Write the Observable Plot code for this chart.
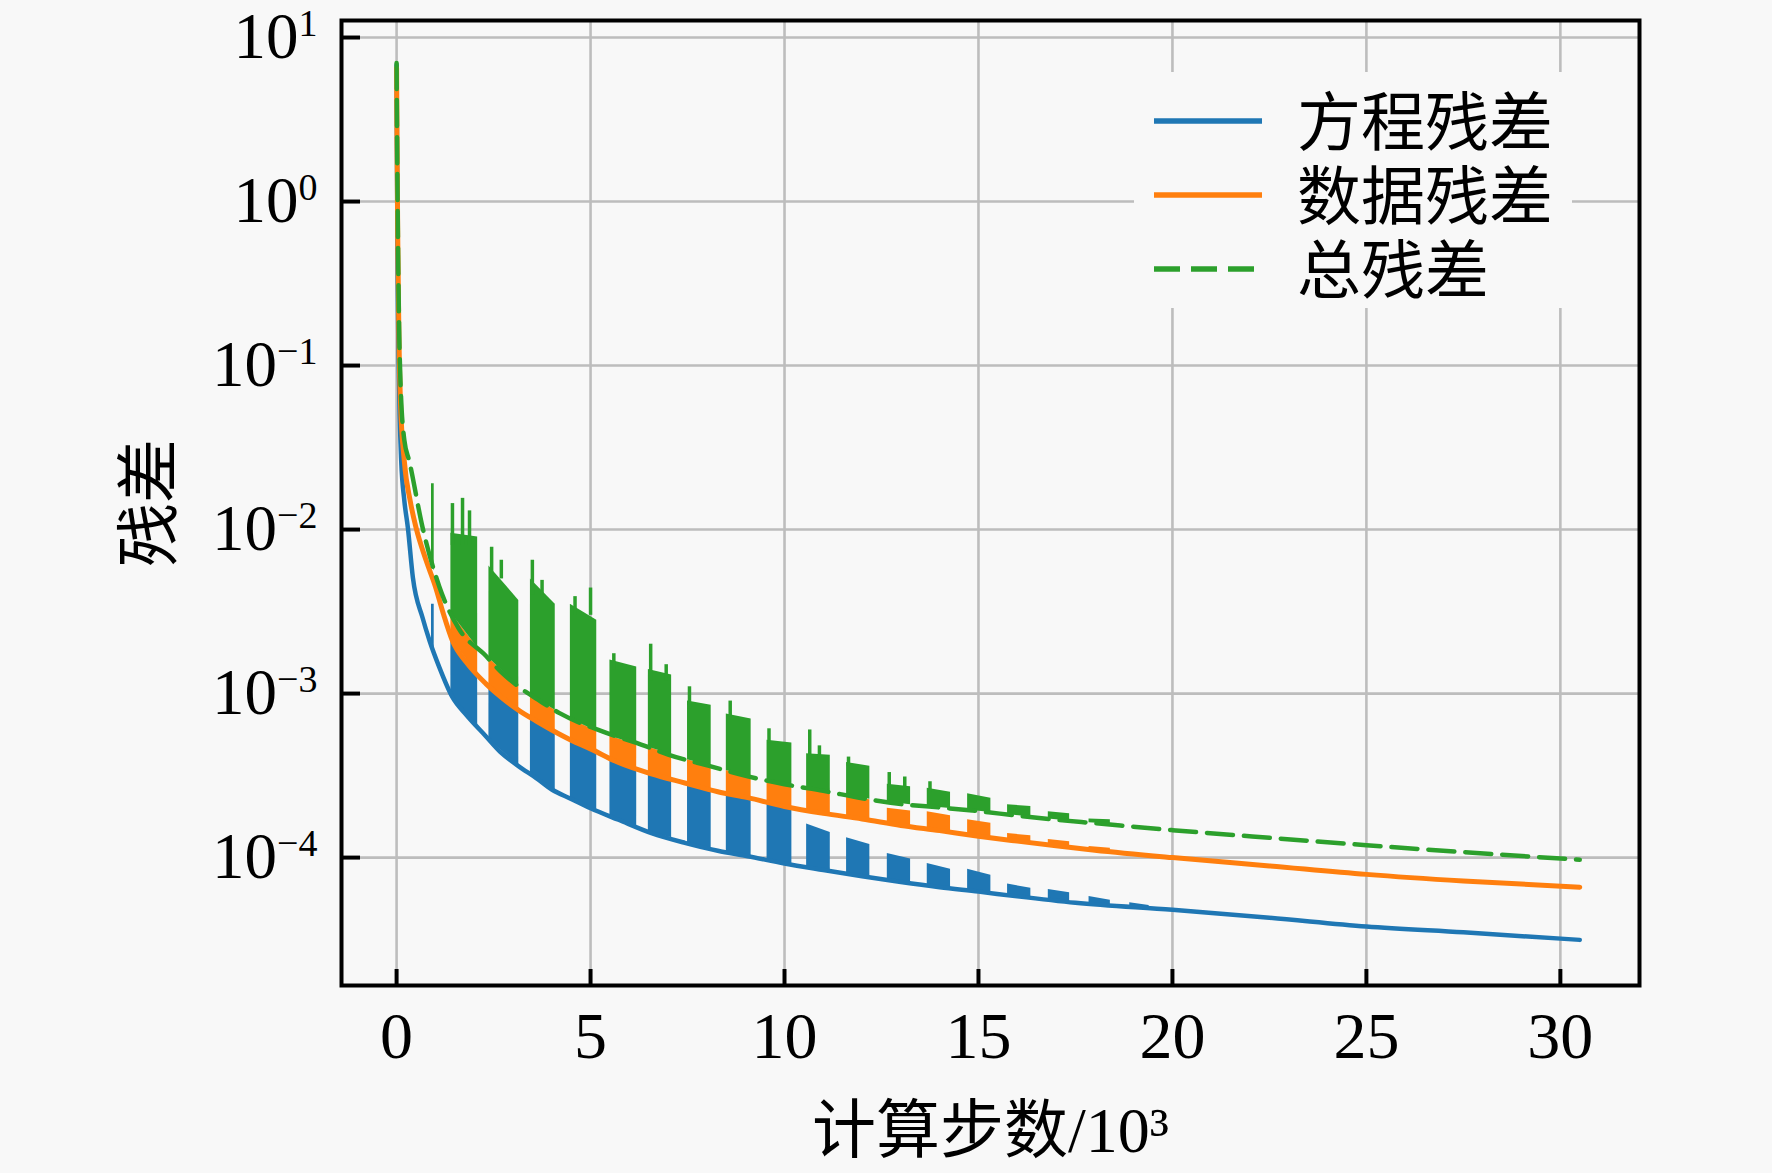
<!DOCTYPE html>
<html>
<head>
<meta charset="utf-8">
<script src="https://cdn.jsdelivr.net/npm/d3@7"></script>
<script src="https://cdn.jsdelivr.net/npm/@observablehq/plot@0.6"></script>
<style>
  @font-face {
    font-family: "LegendCJK";
    src: local("Noto Sans CJK SC"), local("Noto Sans CJK SC Regular"), local("NotoSansCJKsc-Regular");
    ascent-override: 88%; descent-override: 12%; line-gap-override: 0%;
  }
  html, body { margin: 0; padding: 0; background: #f8f8f8; }
  #wrap { position: relative; width: 1772px; height: 1173px; overflow: hidden; }
  #legend { position: absolute; left: 1134px; top: 72px; width: 438px; height: 236px; background: #f8f8f8; }
  .row { position: absolute; left: 0; width: 438px; height: 74px; }
  .row svg { position: absolute; left: 18px; top: 27px; }
  .row span { position: absolute; left: 163px; top: 0; line-height: 74px; font-size: 64px; font-family: "LegendCJK", "Noto Sans CJK SC", sans-serif; color: #000; white-space: nowrap; }
</style>
</head>
<body>
<div id="wrap"></div>
<script>
// ---------- axis ticks ----------
const xTicks = [0, 5, 10, 15, 20, 25, 30];
const yTicks = [1e1, 1e0, 1e-1, 1e-2, 1e-3, 1e-4];
const yExponents = ["1", "0", "\u22121", "\u22122", "\u22123", "\u22124"];
const xLabel = "计算步数/10³";
const yLabel = "残差";
const seriesNames = ["方程残差", "数据残差", "总残差"];
const seriesColors = ["#1f77b4", "#ff7f0e", "#2ca02c"];

// ---------- lower envelopes (steps in 10^3) ----------
const blueX = [0, 0.01, 0.025, 0.05, 0.08, 0.12, 0.2, 0.29, 0.42, 0.67, 0.85, 1.1, 1.44, 1.8, 2.3, 2.7, 3.15, 3.6, 4.0, 4.5, 5.0, 5.72, 6.57, 7.43, 8.28, 9.05, 10.0, 11.0, 12.0, 13.0, 14.0, 15.0, 16.0, 17.5, 20.0, 22.5, 25.0, 27.5, 30.5];
const blueY = [6.8, 2.0, 0.4, 0.12, 0.05, 0.026, 0.015, 0.0103, 5.1e-3, 2.9e-3, 2.1e-3, 1.45e-3, 9.5e-4, 7.4e-4, 5.5e-4, 4.35e-4, 3.6e-4, 3.05e-4, 2.6e-4, 2.28e-4, 2.0e-4, 1.7e-4, 1.41e-4, 1.23e-4, 1.1e-4, 1.02e-4, 9.2e-5, 8.4e-5, 7.7e-5, 7.1e-5, 6.6e-5, 6.2e-5, 5.8e-5, 5.3e-5, 4.8e-5, 4.3e-5, 3.8e-5, 3.5e-5, 3.15e-5];

const orangeX = [0, 0.01, 0.03, 0.06, 0.1, 0.2, 0.35, 0.5, 0.76, 1.0, 1.2, 1.44, 1.8, 2.3, 2.7, 3.15, 3.6, 4.0, 4.5, 5.0, 5.72, 6.57, 7.43, 8.28, 9.05, 10.0, 11.0, 12.0, 13.0, 14.0, 15.0, 16.0, 17.0, 18.0, 20.0, 22.5, 25.0, 27.5, 30.5];
const orangeY = [6.5, 2.5, 0.6, 0.15, 0.06, 0.026, 0.015, 0.0103, 6.5e-3, 4.5e-3, 3.1e-3, 2.1e-3, 1.55e-3, 1.15e-3, 9.5e-4, 7.9e-4, 6.8e-4, 6.0e-4, 5.2e-4, 4.6e-4, 3.8e-4, 3.24e-4, 2.85e-4, 2.52e-4, 2.32e-4, 2.05e-4, 1.86e-4, 1.72e-4, 1.57e-4, 1.46e-4, 1.35e-4, 1.26e-4, 1.18e-4, 1.11e-4, 1.0e-4, 8.9e-5, 7.9e-5, 7.2e-5, 6.6e-5];

const greenX = [0, 0.01, 0.03, 0.06, 0.1, 0.2, 0.33, 0.67, 1.1, 1.6, 2.3, 2.7, 3.15, 3.7, 4.2, 5.2, 6.4, 7.0, 8.1, 9.0, 10.0, 11.0, 12.0, 13.0, 14.0, 15.0, 16.0, 17.0, 18.0, 20.0, 22.5, 25.0, 27.5, 30.5];
const greenY = [7.0, 3.0, 0.8, 0.2, 0.08, 0.035, 0.026, 0.0103, 4.5e-3, 2.5e-3, 1.7e-3, 1.35e-3, 1.1e-3, 9.0e-4, 7.6e-4, 6.0e-4, 4.8e-4, 4.25e-4, 3.6e-4, 3.15e-4, 2.8e-4, 2.55e-4, 2.3e-4, 2.12e-4, 2.02e-4, 1.92e-4, 1.8e-4, 1.7e-4, 1.62e-4, 1.47e-4, 1.32e-4, 1.19e-4, 1.08e-4, 9.7e-5];

// ---------- oscillation bursts: [xStart, xEnd, lowStart, lowEnd, highStart, highEnd] ----------
const blueBursts = [
  [0.90, 0.97, 1.9e-3, 1.8e-3, 3.5e-3, 3.5e-3],
  [1.40, 2.09, 9.8e-4, 6.2e-4, 2.2e-3, 1.3e-3],
  [2.38, 3.15, 5.3e-4, 3.6e-4, 1.1e-3, 7.9e-4],
  [3.45, 4.09, 3.2e-4, 2.55e-4, 7.1e-4, 5.85e-4],
  [4.48, 5.16, 2.3e-4, 1.94e-4, 5.2e-4, 4.4e-4],
  [5.50, 6.19, 1.78e-4, 1.53e-4, 4.0e-4, 3.45e-4],
  [6.49, 7.09, 1.43e-4, 1.32e-4, 3.3e-4, 3.05e-4],
  [7.50, 8.11, 1.22e-4, 1.13e-4, 2.82e-4, 2.6e-4],
  [8.50, 9.14, 1.08e-4, 1.01e-4, 2.47e-4, 2.3e-4],
  [9.55, 10.19, 9.6e-5, 9.0e-5, 2.18e-4, 2.02e-4],
  [10.57, 11.18, 8.7e-5, 8.3e-5, 1.6e-4, 1.42e-4],
  [11.60, 12.20, 8.0e-5, 7.6e-5, 1.32e-4, 1.2e-4],
  [12.65, 13.25, 7.35e-5, 7.0e-5, 1.06e-4, 9.8e-5],
  [13.68, 14.28, 6.8e-5, 6.5e-5, 9.2e-5, 8.5e-5],
  [14.72, 15.32, 6.3e-5, 6.1e-5, 8.5e-5, 7.8e-5],
  [15.75, 16.35, 5.9e-5, 5.7e-5, 6.9e-5, 6.5e-5],
  [16.80, 17.35, 5.55e-5, 5.35e-5, 6.4e-5, 6.1e-5],
  [17.85, 18.40, 5.2e-5, 5.1e-5, 5.8e-5, 5.5e-5],
  [18.90, 19.40, 5.0e-5, 4.9e-5, 5.3e-5, 5.1e-5]
];
const orangeBursts = [
  [1.40, 2.09, 2.2e-3, 1.3e-3, 3.1e-3, 1.9e-3],
  [2.38, 3.15, 1.1e-3, 7.9e-4, 1.65e-3, 1.1e-3],
  [3.45, 4.09, 7.1e-4, 5.85e-4, 9.8e-4, 7.9e-4],
  [4.48, 5.16, 5.2e-4, 4.4e-4, 7.0e-4, 5.9e-4],
  [5.50, 6.19, 4.0e-4, 3.45e-4, 5.5e-4, 4.9e-4],
  [6.49, 7.09, 3.3e-4, 3.05e-4, 4.7e-4, 4.25e-4],
  [7.50, 8.11, 2.82e-4, 2.6e-4, 3.95e-4, 3.6e-4],
  [8.50, 9.14, 2.47e-4, 2.3e-4, 3.4e-4, 3.1e-4],
  [9.55, 10.19, 2.18e-4, 2.02e-4, 2.95e-4, 2.75e-4],
  [10.57, 11.18, 1.94e-4, 1.83e-4, 2.65e-4, 2.5e-4],
  [11.60, 12.20, 1.78e-4, 1.69e-4, 2.35e-4, 2.25e-4],
  [12.65, 13.25, 1.62e-4, 1.54e-4, 2.0e-4, 1.92e-4],
  [13.68, 14.28, 1.49e-4, 1.43e-4, 1.9e-4, 1.8e-4],
  [14.72, 15.32, 1.38e-4, 1.32e-4, 1.7e-4, 1.62e-4],
  [15.75, 16.35, 1.28e-4, 1.23e-4, 1.4e-4, 1.36e-4],
  [16.80, 17.35, 1.2e-4, 1.16e-4, 1.29e-4, 1.25e-4],
  [17.85, 18.40, 1.12e-4, 1.09e-4, 1.17e-4, 1.14e-4]
];
const greenBursts = [
  [0.90, 0.97, 6.0e-3, 5.6e-3, 0.019, 0.019],
  [1.40, 2.09, 3.1e-3, 1.9e-3, 9.5e-3, 9.0e-3],
  [2.38, 3.15, 1.65e-3, 1.1e-3, 6.0e-3, 3.7e-3],
  [3.45, 4.09, 9.8e-4, 7.9e-4, 5.0e-3, 3.5e-3],
  [4.48, 5.16, 7.0e-4, 5.9e-4, 3.5e-3, 2.8e-3],
  [5.50, 6.19, 5.5e-4, 4.9e-4, 1.6e-3, 1.45e-3],
  [6.49, 7.09, 4.7e-4, 4.25e-4, 1.4e-3, 1.3e-3],
  [7.50, 8.11, 3.95e-4, 3.6e-4, 9.0e-4, 8.5e-4],
  [8.50, 9.14, 3.4e-4, 3.1e-4, 7.5e-4, 7.0e-4],
  [9.55, 10.19, 2.95e-4, 2.75e-4, 5.2e-4, 5.0e-4],
  [10.57, 11.18, 2.65e-4, 2.5e-4, 4.3e-4, 4.2e-4],
  [11.60, 12.20, 2.4e-4, 2.27e-4, 3.8e-4, 3.6e-4],
  [12.65, 13.25, 2.18e-4, 2.1e-4, 2.8e-4, 2.7e-4],
  [13.68, 14.28, 2.05e-4, 1.99e-4, 2.65e-4, 2.5e-4],
  [14.72, 15.32, 1.95e-4, 1.88e-4, 2.45e-4, 2.3e-4],
  [15.75, 16.35, 1.83e-4, 1.77e-4, 2.1e-4, 2.05e-4],
  [16.80, 17.35, 1.72e-4, 1.67e-4, 1.9e-4, 1.85e-4],
  [17.85, 18.40, 1.63e-4, 1.6e-4, 1.72e-4, 1.7e-4]
];
// isolated tall spikes of the total residual: [x, from, to]
const greenSpikes = [
  [1.44, 8e-3, 0.0144], [1.70, 8e-3, 0.0155], [1.88, 8e-3, 0.013],
  [2.45, 5e-3, 7.8e-3], [2.70, 5e-3, 6.5e-3], [3.50, 4e-3, 6.5e-3], [3.75, 4e-3, 4.9e-3],
  [4.60, 3e-3, 3.9e-3], [5.00, 3e-3, 4.4e-3], [5.60, 1.4e-3, 1.75e-3],
  [6.55, 1.2e-3, 2.0e-3], [6.95, 1.2e-3, 1.5e-3], [7.55, 8e-4, 1.1e-3], [8.60, 7e-4, 9.0e-4],
  [9.60, 5e-4, 6.1e-4], [10.65, 4e-4, 6.0e-4], [10.90, 4e-4, 4.8e-4], [11.65, 3.6e-4, 4.1e-4],
  [12.70, 2.7e-4, 3.3e-4], [13.10, 2.7e-4, 3.1e-4], [13.75, 2.5e-4, 2.9e-4]
];

// ---------- build tables ----------
const toPoints = (xs, ys) => xs.map((x, i) => ({x, y: ys[i]}));
const toBands = (bursts) => bursts.flatMap((b, i) => [
  {id: i, x: b[0], lo: b[2], hi: b[4]},
  {id: i, x: b[1], lo: b[3], hi: b[5]}
]);
const spikes = greenSpikes.map(s => ({x: s[0], y1: s[1], y2: s[2]}));

const W = 1772, H = 1173;
const mL = 341, mR = 133, mT = 20, mB = 188;
const innerW = W - mL - mR, innerH = H - mT - mB;
const [BLUE, ORANGE, GREEN] = seriesColors;
const serif = "'Liberation Serif', 'Times New Roman', serif";
const mixed = "'Liberation Serif', 'Noto Sans CJK SC', serif";

const chart = Plot.plot({
  width: W, height: H,
  marginLeft: mL, marginRight: mR, marginTop: mT, marginBottom: mB,
  x: {domain: [-1.42, 32.04]},
  y: {type: "log", domain: [1.66e-5, 12.7]},
  style: {background: "transparent", fontFamily: serif, fontSize: "64px", color: "#000", overflow: "visible"},
  marks: [
    Plot.gridX(xTicks, {stroke: "#bdbdbd", strokeOpacity: 1, strokeWidth: 2.6}),
    Plot.gridY(yTicks, {stroke: "#bdbdbd", strokeOpacity: 1, strokeWidth: 2.6}),
    Plot.areaY(toBands(blueBursts), {x: "x", y1: "lo", y2: "hi", z: "id", fill: BLUE}),
    Plot.areaY(toBands(orangeBursts), {x: "x", y1: "lo", y2: "hi", z: "id", fill: ORANGE}),
    Plot.areaY(toBands(greenBursts), {x: "x", y1: "lo", y2: "hi", z: "id", fill: GREEN}),
    Plot.ruleX(spikes, {x: "x", y1: "y1", y2: "y2", stroke: GREEN, strokeWidth: 3.5}),
    Plot.line(toPoints(blueX, blueY), {x: "x", y: "y", stroke: BLUE, strokeWidth: 4.5, curve: "monotone-x"}),
    Plot.line(toPoints(orangeX, orangeY), {x: "x", y: "y", stroke: ORANGE, strokeWidth: 5, curve: "monotone-x"}),
    Plot.line(toPoints(greenX, greenY), {x: "x", y: "y", stroke: GREEN, strokeWidth: 4.5, strokeDasharray: "26 11", curve: "monotone-x"}),
    Plot.ruleX(xTicks, {x: d => d, insetTop: innerH - 16, stroke: "#000", strokeWidth: 4}),
    Plot.ruleY(yTicks, {y: d => d, insetRight: innerW - 19, stroke: "#000", strokeWidth: 4}),
    Plot.frame({stroke: "#000", strokeWidth: 4}),
    Plot.axisX(xTicks, {tickSize: 0, tickPadding: 26, label: null, fontSize: 66, fontFamily: serif}),
    Plot.axisY(yTicks, {tickSize: 0, tickPadding: 24, label: null, fontSize: 65, fontFamily: serif,
      tickFormat: d => "10^" + yExponents[yTicks.indexOf(d)]}),
    Plot.text([xLabel], {text: d => d, frameAnchor: "bottom", lineAnchor: "middle", textAnchor: "middle", dy: 146, fontSize: 64, fontFamily: mixed, fill: "#000"}),
    Plot.text([yLabel], {text: d => d, frameAnchor: "left", lineAnchor: "middle", textAnchor: "middle", dx: -191, rotate: -90, fontSize: 64, fontFamily: mixed, fill: "#000"})
  ]
});

// superscript exponents on the y tick labels
const NS = "http://www.w3.org/2000/svg";
chart.querySelectorAll('g[aria-label="y-axis tick label"] text').forEach(t => {
  const s = t.textContent;
  if (!s.startsWith("10^")) return;
  const exp = s.slice(3);
  t.textContent = "10";
  const ts = document.createElementNS(NS, "tspan");
  ts.setAttribute("dy", "-22");
  ts.setAttribute("font-size", "38");
  ts.textContent = exp;
  t.appendChild(ts);
});

const wrap = document.getElementById("wrap");
wrap.appendChild(chart);

// legend (inside plot area, upper right)
const legend = document.createElement("div");
legend.id = "legend";
const rowTops = [12, 86, 160];
seriesNames.forEach((name, i) => {
  const row = document.createElement("div");
  row.className = "row";
  row.style.top = rowTops[i] + "px";
  const dash = i === 2 ? ' stroke-dasharray="26 11"' : "";
  row.innerHTML = `<svg width="112" height="20"><line x1="2" y1="10" x2="110" y2="10" stroke="${seriesColors[i]}" stroke-width="5.5"${dash}/></svg><span>${name}</span>`;
  legend.appendChild(row);
});
wrap.appendChild(legend);
</script>
</body>
</html>
